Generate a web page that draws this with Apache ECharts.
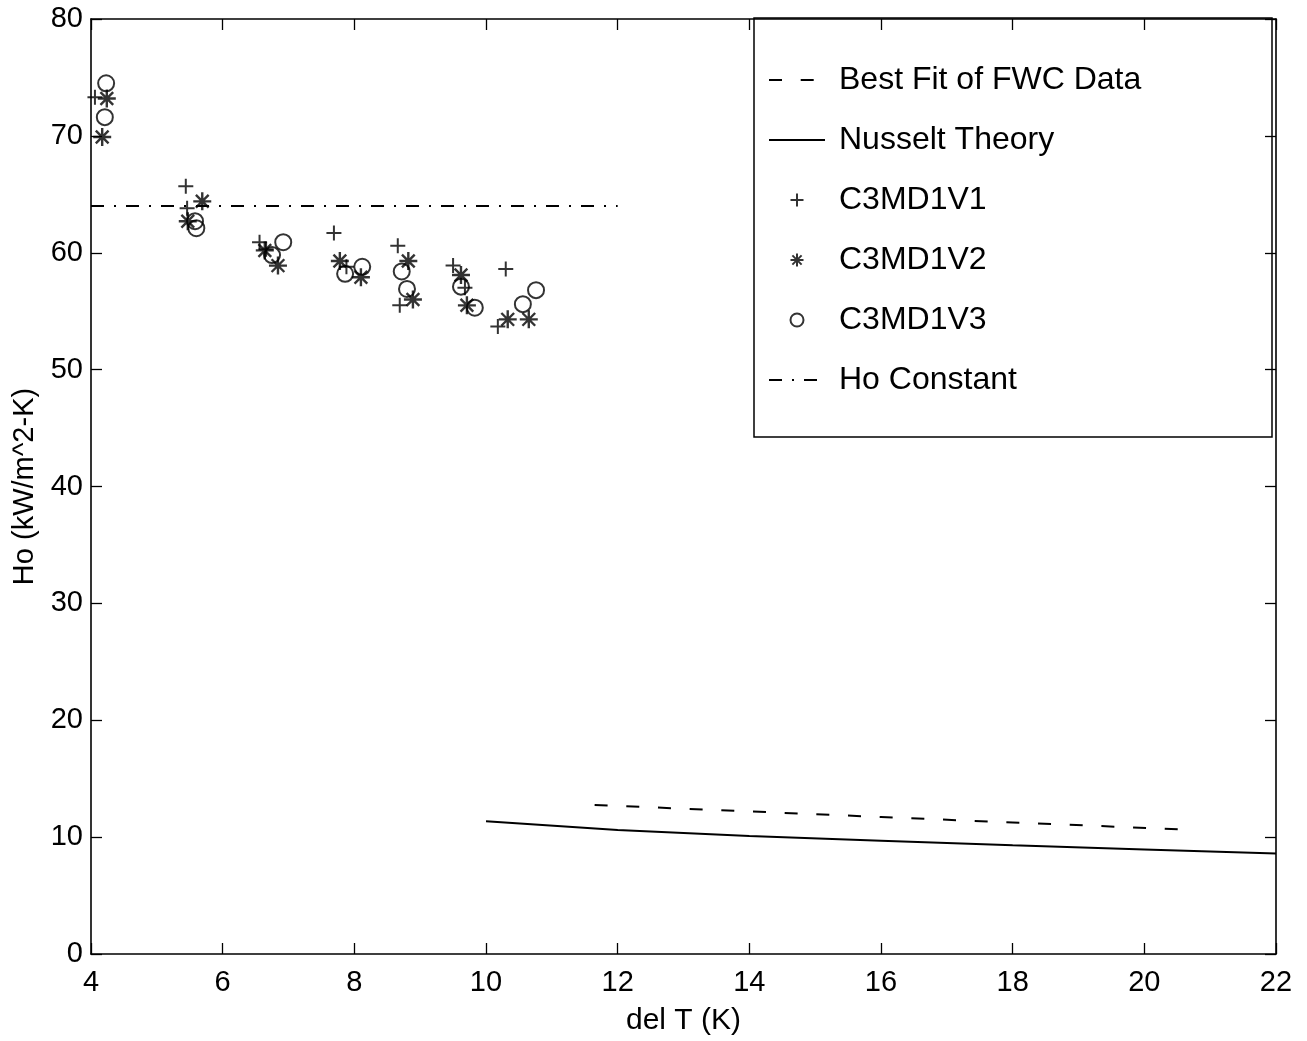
<!DOCTYPE html>
<html>
<head>
<meta charset="utf-8">
<title>Ho vs del T</title>
<script src="https://cdn.jsdelivr.net/npm/echarts@6/dist/echarts.min.js"></script>
<style>
  html, body { margin: 0; padding: 0; background: #fff; }
  #chart { width: 1307px; height: 1041px; }
</style>
</head>
<body>
<div id="chart"></div>
<script>
// Measured condensation coefficients, [del T (K), Ho (kW/m^2-K)]
const c3md1v1 = [
  [4.06, 73.3], [5.44, 65.7], [5.46, 63.8], [6.56, 60.9], [6.66, 60.3],
  [7.69, 61.7], [7.88, 58.8], [8.66, 60.6], [8.69, 55.5], [9.50, 58.9],
  [9.68, 57.0], [10.30, 58.6], [10.18, 53.7]
];
const c3md1v2 = [
  [4.24, 73.2], [4.17, 69.9], [5.69, 64.4], [5.47, 62.7], [6.64, 60.2],
  [6.84, 58.9], [7.78, 59.3], [8.10, 57.9], [8.82, 59.3], [8.89, 56.0],
  [9.62, 58.1], [9.71, 55.5], [10.33, 54.3], [10.65, 54.3]
];
const c3md1v3 = [
  [4.23, 74.5], [4.21, 71.6], [5.58, 62.7], [5.60, 62.1], [6.92, 60.9],
  [6.75, 59.8], [7.86, 58.2], [8.12, 58.8], [8.72, 58.4], [8.80, 56.9],
  [9.62, 57.1], [9.83, 55.3], [10.56, 55.6], [10.76, 56.8]
];
// Reference curves
const bestFitFWC = [[11.65, 12.75], [14, 12.2], [16, 11.72], [18, 11.25], [20.75, 10.62]];
const nusseltTheory = [[10, 11.35], [12, 10.6], [14, 10.1], [16, 9.7], [18, 9.3], [20, 8.95], [22, 8.6]];
const hoConstant = [[4, 64], [12, 64]];

// Axis ranges and tick spacing
const xRange = { min: 4, max: 22, interval: 2 };
const yRange = { min: 0, max: 80, interval: 10 };

const FONT = 'Liberation Sans, Arial, Helvetica, sans-serif';
const INK = '#000';

const plusPath = 'path://M5 0 L5 10 M0 5 L10 5';
const starPath = 'path://M5 0 L5 10 M0 5 L10 5 M1.46 1.46 L8.54 8.54 M8.54 1.46 L1.46 8.54';

// legend entries for plain lines carry no marker
const noMarker = { color: 'rgba(0,0,0,0)', borderColor: 'rgba(0,0,0,0)', borderWidth: 0 };

function frameAxis(extra) {
  return Object.assign({
    type: 'value',
    splitLine: { show: false },
    axisLine: { show: true, onZero: false, lineStyle: { color: INK, width: 1.6 } },
    axisTick: { show: true, inside: true, length: 11, lineStyle: { color: INK, width: 1.3 } }
  }, extra);
}

const chart = echarts.init(document.getElementById('chart'), null, { renderer: 'canvas' });

chart.setOption({
  backgroundColor: '#fff',
  animation: false,
  textStyle: { fontFamily: FONT, color: INK },
  grid: { left: 91, right: 31, top: 19, bottom: 84, containLabel: false },
  xAxis: [
    frameAxis(Object.assign({}, xRange, {
      position: 'bottom',
      name: 'del T (K)',
      nameLocation: 'middle',
      nameGap: 52,
      nameTextStyle: { fontFamily: FONT, fontSize: 30, color: INK },
      axisLabel: { fontFamily: FONT, fontSize: 29, color: INK, margin: 14 }
    })),
    frameAxis(Object.assign({}, xRange, {
      position: 'top',
      axisLabel: { show: false }
    }))
  ],
  yAxis: [
    frameAxis(Object.assign({}, yRange, {
      position: 'left',
      name: 'Ho (kW/m^2-K)',
      nameLocation: 'middle',
      nameGap: 52,
      nameTextStyle: { fontFamily: FONT, fontSize: 29, color: INK },
      axisLabel: { fontFamily: FONT, fontSize: 29, color: INK, margin: 8 }
    })),
    frameAxis(Object.assign({}, yRange, {
      position: 'right',
      axisLabel: { show: false }
    }))
  ],
  graphic: [{
    type: 'rect',
    z: 5,
    silent: true,
    shape: { x: 754, y: 18, width: 518, height: 419 },
    style: { fill: 'none', stroke: INK, lineWidth: 1.5 }
  }],
  legend: {
    orient: 'vertical',
    left: 768,
    top: 64,
    padding: 0,
    itemWidth: 56,
    itemHeight: 13,
    itemGap: 28,
    selectedMode: false,
    textStyle: { fontFamily: FONT, fontSize: 32, color: INK, lineHeight: 30, padding: [0, 0, 0, 9] },
    data: [
      { name: 'Best Fit of FWC Data', itemStyle: noMarker },
      { name: 'Nusselt Theory', itemStyle: noMarker },
      'C3MD1V1',
      'C3MD1V2',
      'C3MD1V3',
      { name: 'Ho Constant', itemStyle: noMarker }
    ]
  },
  series: [
    {
      name: 'Best Fit of FWC Data',
      type: 'line',
      data: bestFitFWC,
      symbol: 'none',
      lineStyle: { color: INK, width: 2, type: [13, 18.7] },
      itemStyle: { color: INK }
    },
    {
      name: 'Nusselt Theory',
      type: 'line',
      data: nusseltTheory,
      symbol: 'none',
      lineStyle: { color: INK, width: 2, type: 'solid' },
      itemStyle: { color: INK }
    },
    {
      name: 'C3MD1V1',
      type: 'scatter',
      data: c3md1v1,
      symbol: plusPath,
      symbolSize: 15,
      symbolKeepAspect: true,
      itemStyle: { color: 'transparent', borderColor: INK, borderWidth: 2 }
    },
    {
      name: 'C3MD1V2',
      type: 'scatter',
      data: c3md1v2,
      symbol: starPath,
      symbolSize: 18,
      symbolKeepAspect: true,
      itemStyle: { color: 'transparent', borderColor: INK, borderWidth: 2.4 }
    },
    {
      name: 'C3MD1V3',
      type: 'scatter',
      data: c3md1v3,
      symbol: 'circle',
      symbolSize: 16,
      itemStyle: { color: 'transparent', borderColor: INK, borderWidth: 2 }
    },
    {
      name: 'Ho Constant',
      type: 'line',
      data: hoConstant,
      symbol: 'none',
      lineStyle: { color: INK, width: 2, type: [13, 10, 2, 10] },
      itemStyle: { color: INK }
    }
  ]
});
</script>
</body>
</html>
